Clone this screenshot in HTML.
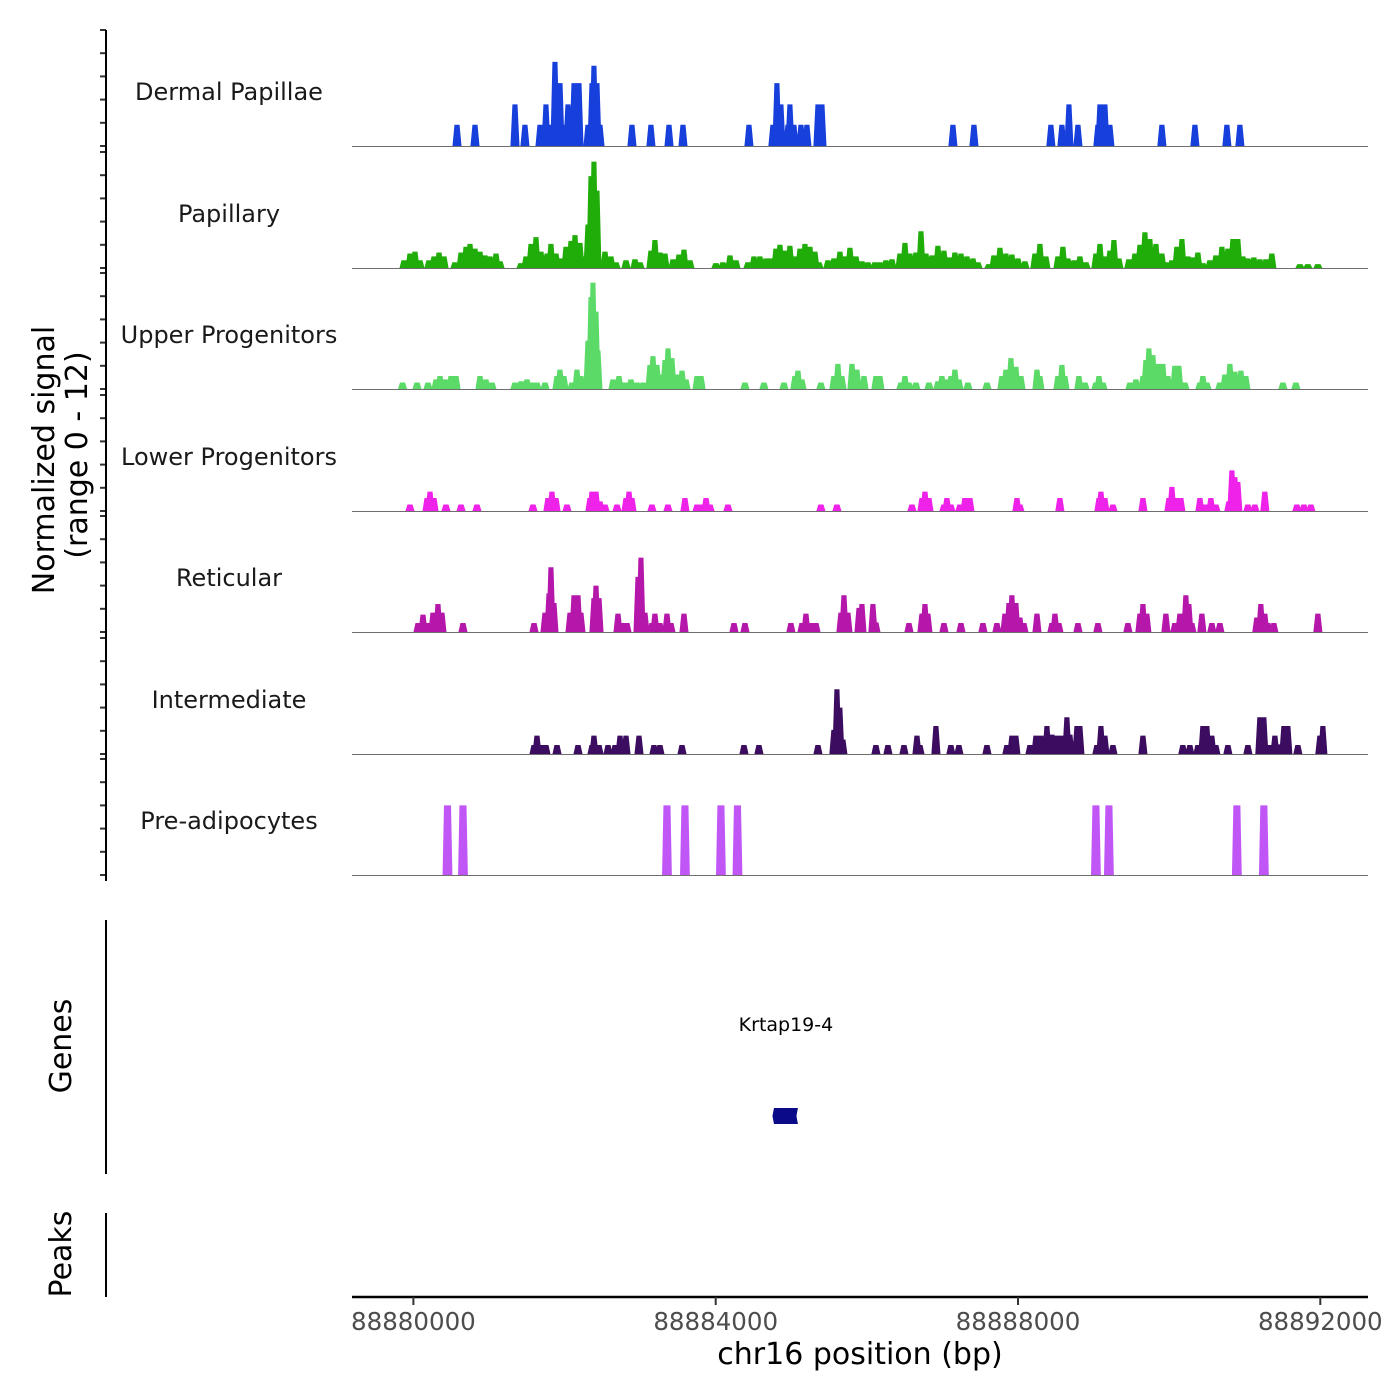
<!DOCTYPE html>
<html><head><meta charset="utf-8"><style>
html,body{margin:0;padding:0;background:#fff;}
svg{display:block;}
text{font-family:"DejaVu Sans","Liberation Sans",sans-serif;}
</style></head><body>
<svg id="chart" width="1400" height="1400" viewBox="0 0 1400 1400" xmlns="http://www.w3.org/2000/svg">
<g id="tracks"></g>
<g id="yaxis"></g>
<text transform="translate(54,460) rotate(-90)" text-anchor="middle" font-size="30" fill="#000">Normalized signal</text>
<text transform="translate(87,455) rotate(-90)" text-anchor="middle" font-size="30" fill="#000">(range 0 - 12)</text>
<line x1="106" y1="920" x2="106" y2="1174" stroke="#000" stroke-width="2"/>
<text transform="translate(71,1046) rotate(-90)" text-anchor="middle" font-size="30" fill="#000">Genes</text>
<line x1="106" y1="1213" x2="106" y2="1297" stroke="#000" stroke-width="2"/>
<text transform="translate(71,1254) rotate(-90)" text-anchor="middle" font-size="30" fill="#000">Peaks</text>
<g id="genes"></g>
<g id="xaxis"></g>
<text x="860" y="1364" text-anchor="middle" font-size="30" fill="#000">chr16 position (bp)</text>
</svg>
<script>
const REGION_START = 88880000;
const xTicks = [88880000, 88884000, 88888000, 88892000];
const trackNames = ["Dermal Papillae","Papillary","Upper Progenitors","Lower Progenitors","Reticular","Intermediate","Pre-adipocytes"];
const trackColors = ["#173fdb","#21ad09","#5bda68","#ef22ea","#b417aa","#3b0c5f","#c056f6"];

const dpPos = [577,815,1344,1476,1675,1754,1807,1873,1940,2006,2045,2125,2191,2310,2363,2389,2429,2469,2892,3143,3382,3567,4440,4757,4810,4863,4956,4982,5035,5128,5207,5353,5406,7139,7417,8435,8581,8674,8793,9057,9084,9150,9216,9904,10341,10764,10936];
const dpVal = [2.2,2.2,4.3,2.2,2.2,4.3,2.2,8.7,6.5,2.2,4.3,6.5,6.5,2.2,6.5,8.3,6.5,2.2,2.2,2.2,2.2,2.2,2.2,2.2,6.5,4.3,2.2,4.3,2.2,2.2,2.2,4.3,4.3,2.2,2.2,2.2,2.2,4.3,2.2,2.2,4.3,4.3,2.2,2.2,2.2,2.2,2.2];

const papPos = [-124,-45,21,87,206,273,339,405,550,630,696,749,815,881,947,1013,1093,1146,1424,1490,1556,1622,1688,1768,1820,1887,1953,2019,2085,2138,2204,2257,2310,2350,2389,2429,2535,2614,2680,2813,2932,2998,3143,3196,3262,3329,3435,3514,3580,3659,4003,4096,4189,4268,4427,4506,4585,4665,4718,4797,4850,4916,4982,5062,5115,5181,5247,5313,5366,5485,5564,5644,5710,5776,5856,5935,6014,6107,6173,6253,6332,6438,6504,6570,6649,6716,6782,6861,6940,7020,7099,7165,7245,7324,7404,7470,7615,7681,7761,7840,7919,7999,8091,8224,8290,8369,8528,8594,8660,8740,8819,8899,9031,9084,9137,9216,9269,9335,9467,9547,9613,9679,9745,9825,9904,9957,10036,10102,10169,10248,10314,10380,10446,10539,10618,10698,10777,10843,10909,10976,11042,11121,11200,11280,11359,11730,11835,11968];
const papVal = [0.8,1.5,1.7,0.8,0.8,1.2,1.6,1.2,0.6,1.6,2.2,2.5,2.0,1.7,1.3,1.2,1.5,0.7,0.5,1.2,2.5,3.2,1.7,1.5,2.5,1.5,1.0,2.2,2.8,3.4,2.6,1.2,4.5,9.5,11,8,1.7,1.2,0.6,0.8,0.9,0.6,1.8,2.9,1.6,1.5,0.9,1.4,1.9,0.8,0.5,0.6,1.3,0.8,0.6,1.2,1.2,1.0,1.0,2.0,2.4,1.8,2.3,1.2,2.0,2.5,2.2,1.7,0.6,0.8,1.0,1.7,1.2,2.1,1.2,0.7,0.6,0.6,0.6,0.8,0.9,1.5,2.6,1.5,1.6,3.8,1.5,1.3,2.3,1.8,1.1,1.6,1.5,1.2,1.0,0.6,0.4,1.3,2.1,1.5,1.4,1.0,0.7,1.5,2.5,1.2,1.2,2.2,1.0,0.8,1.2,0.6,1.5,2.5,1.2,1.8,2.9,1.0,0.9,1.5,2.4,3.7,3.0,2.5,1.5,0.6,0.8,2.2,3.0,1.2,1.1,1.6,0.5,0.8,1.3,2.2,2.0,3.0,3.0,1.2,1.0,1.1,0.9,0.9,1.5,0.4,0.4,0.4];

const upPos = [-144,48,193,299,352,418,497,564,881,960,1040,1344,1424,1503,1582,1635,1741,1900,1939,1992,2098,2164,2217,2310,2350,2376,2416,2442,2641,2720,2800,2879,2959,3038,3130,3170,3223,3276,3329,3369,3421,3488,3554,3607,3753,3806,4387,4638,4903,5048,5088,5141,5392,5564,5617,5670,5803,5869,5962,6120,6173,6451,6504,6557,6649,6822,6940,6993,7059,7112,7165,7218,7337,7589,7787,7840,7906,7972,8039,8251,8290,8528,8581,8621,8806,8886,9031,9071,9124,9481,9560,9653,9692,9732,9785,9851,9917,9983,10075,10128,10208,10407,10446,10499,10671,10737,10804,10870,10949,11015,11505,11677];
const upVal = [0.67,0.67,0.67,1.0,1.35,1.0,1.35,1.35,1.35,1.0,0.67,0.67,0.8,1.0,0.67,0.67,0.67,1.35,2.0,1.35,0.67,2.0,1.35,5.0,9.5,11,8,4,1.0,1.35,0.67,1.0,0.67,0.67,2.5,3.4,2.5,1.5,3.0,4.2,3.2,1.5,1.9,1.0,1.35,1.35,0.67,0.67,0.67,1.35,1.9,1.0,0.67,1.35,2.6,1.35,2.6,2.0,1.35,1.35,1.35,0.67,1.35,0.67,0.67,0.67,0.8,1.35,1.0,1.35,2.0,1.0,0.67,0.67,1.35,2.0,3.2,2.3,1.35,2.0,1.35,1.35,2.5,1.35,1.35,0.67,0.67,1.35,0.67,0.67,1.0,1.35,3.0,4.2,3.5,2.6,2.6,1.35,2.4,2.4,0.67,0.67,1.35,0.67,0.67,1.5,2.6,1.8,1.9,1.35,0.67,0.67];

const lpPos = [-45,180,220,273,431,630,841,1582,1780,1833,1887,2032,2336,2363,2416,2469,2535,2694,2813,2853,2892,3156,3368,3593,3753,3819,3872,3925,4162,5392,5604,6597,6729,6769,6822,7020,7059,7112,7231,7297,7364,7986,8025,8554,9071,9097,9150,9256,9653,9997,10036,10089,10155,10407,10486,10552,10618,10790,10830,10870,10909,11042,11134,11266,11690,11783,11875];
const lpVal = [0.67,1.35,2.0,1.35,0.67,0.67,0.67,0.67,1.35,2.0,1.35,0.67,1.35,2.0,2.0,1.0,0.67,0.67,1.35,2.0,1.35,0.67,0.67,1.35,0.67,0.67,1.35,0.67,0.67,0.67,0.67,0.67,1.35,2.0,1.35,0.67,1.35,0.67,0.67,1.35,1.35,1.35,0.67,1.35,1.35,2.0,1.35,0.67,1.35,1.35,2.5,1.35,1.35,1.35,0.67,1.35,0.67,1.0,4.2,3.5,3.0,0.67,0.67,2.0,0.67,0.67,0.67];

const retPos = [61,127,193,259,325,378,656,1596,1741,1794,1820,1860,2072,2125,2178,2217,2389,2416,2456,2707,2773,2826,2972,3011,3064,3156,3196,3262,3355,3408,3580,4242,4387,4995,5141,5194,5273,5327,5657,5697,5750,5896,5935,6080,6120,6557,6729,6769,6808,7020,7245,7536,7721,7827,7880,7919,7972,8025,8078,8251,8449,8489,8541,8793,9057,9454,9613,9653,9705,9957,10075,10142,10221,10261,10300,10433,10565,10671,11160,11213,11266,11306,11385,11968];
const retVal = [0.93,1.8,0.93,2.0,2.9,2.0,0.93,0.93,2.0,4.0,6.7,3.0,2.0,3.8,3.8,2.0,3.5,4.8,3.5,1.9,0.93,0.93,5.7,7.7,2.0,0.93,1.9,0.93,1.9,0.93,1.9,0.93,0.93,0.93,0.93,1.9,0.93,0.93,2.0,3.8,2.0,2.5,2.9,2.9,1.0,0.93,1.9,2.9,1.9,0.93,0.93,0.93,0.93,1.9,3.0,3.8,3.0,1.5,0.93,1.9,0.93,1.9,0.93,0.93,0.93,0.93,1.9,2.9,1.9,1.9,0.93,1.9,3.8,2.9,0.93,1.9,0.93,0.93,1.5,2.9,1.9,0.93,0.93,1.9];

const intPos = [1596,1635,1701,1754,1900,2178,2363,2389,2456,2575,2668,2734,2813,2985,3183,3262,3554,4374,4572,5353,5564,5604,5643,5683,6120,6279,6491,6663,6703,6914,7112,7218,7589,7853,7919,7972,8158,8237,8303,8383,8449,8515,8581,8647,8687,8780,8819,9044,9097,9150,9256,9653,10181,10274,10380,10446,10499,10565,10618,10777,11042,11200,11253,11333,11399,11452,11518,11571,11703,11994,12034];
const intVal = [0.93,1.9,0.93,0.93,0.93,0.93,0.93,1.9,0.93,0.93,0.93,1.9,1.9,1.9,0.93,0.93,0.93,0.93,0.93,0.93,2.5,6.7,4.8,1.5,0.93,0.93,0.93,1.9,0.93,2.9,0.93,0.93,0.93,0.93,1.9,1.9,0.93,1.9,1.9,2.9,2.0,1.9,1.9,3.8,2.0,2.9,2.9,0.93,2.9,1.9,0.93,1.9,0.93,0.93,0.93,2.9,2.9,1.9,0.93,0.93,0.93,3.8,3.8,0.93,1.9,1.0,2.9,2.9,0.93,1.9,2.9];

const prePos = [451,656,3355,3593,4069,4288,9031,9203,10896,11253];
const preVal = [7.2,7.2,7.2,7.2,7.2,7.2,7.2,7.2,7.2,7.2];

const geneNames = ["Krtap19-4"];
const geneStarts = [88884771];
const geneEnds = [88885088];

const trackPos = [dpPos,papPos,upPos,lpPos,retPos,intPos,prePos];
const trackVal = [dpVal,papVal,upVal,lpVal,retVal,intVal,preVal];

const NS = "http://www.w3.org/2000/svg";
const X0 = 413.4, PX_PER_BP = 302.3/4000;
function xScale(bp){ return X0 + (bp - REGION_START) * PX_PER_BP; }
const BASES = [146,268,389,511,632,754,875];
const TRACK_H = 116, YMAX = 12;
function yScale(v, t){ return BASES[t] - v / YMAX * TRACK_H; }
function mk(tag, attrs){ const e=document.createElementNS(NS,tag); for(const k in attrs) e.setAttribute(k, attrs[k]); return e; }

const tracksG = document.getElementById('tracks');
const yG = document.getElementById('yaxis');
const HALF = 60;
for (let t=0; t<trackNames.length; t++){
  const g = mk('g', {});
  
  
  tracksG.appendChild(g);
  const lbl = mk('text', {x:229, y:BASES[t]-116+70, 'text-anchor':'middle', 'font-size':24, fill:'#1a1a1a'});
  lbl.textContent = trackNames[t];
  
  
  g.appendChild(lbl);
  const pos = trackPos[t], val = trackVal[t];
  const half = t===6 ? 65 : HALF;
  let d = '';
  for (let i=0;i<pos.length;i++){
    const c = REGION_START + pos[i];
    const xl = xScale(c-half), xr = xScale(c+half);
    const inset = t===6 ? 1.4 : 2.0;
    const yb = BASES[t], yt = yScale(val[i], t);
    d += `M${xl.toFixed(2)},${yb}L${(xl+inset).toFixed(2)},${yt.toFixed(2)}L${(xr-inset).toFixed(2)},${yt.toFixed(2)}L${xr.toFixed(2)},${yb}Z`;
  }
  const area = mk('path', {d:d, fill:trackColors[t], stroke:'none'});
  
  
  g.appendChild(area);
  const base = mk('line', {x1:352, x2:1368, y1:BASES[t]+0.5, y2:BASES[t]+0.5, stroke:'#6e6e6e', 'stroke-width':1});
  
  
  g.appendChild(base);
  for (let k=0;k<=5;k++){
    const yy = BASES[t] - k*TRACK_H/5;
    const tk = mk('line', {x1:100, x2:106, y1:yy, y2:yy, stroke:'#333', 'stroke-width':2});
    
    
    yG.appendChild(tk);
  }
}
const yl = mk('line', {x1:106, x2:106, y1:30, y2:881, stroke:'#000', 'stroke-width':2});


yG.appendChild(yl);

const genesG = document.getElementById('genes');
for (let i=0;i<geneNames.length;i++){
  const x1 = xScale(geneStarts[i]), x2 = xScale(geneEnds[i]);
  const r = mk('path', {d:`M${x1},1108L${x2},1108L${x2-1.5},1116L${x2},1124L${x1},1124L${x1-1.5},1116Z`, fill:'#0b0b8a'});
  
  
  genesG.appendChild(r);
  const tx = mk('text', {x:(x1+x2)/2, y:1031, 'text-anchor':'middle', 'font-size':19, fill:'#000'});
  tx.textContent = geneNames[i];
  
  
  genesG.appendChild(tx);
}

const xG = document.getElementById('xaxis');
const xl = mk('line', {x1:352, x2:1368, y1:1297, y2:1297, stroke:'#000', 'stroke-width':2.5});


xG.appendChild(xl);
for (const v of xTicks){
  const x = xScale(v);
  const tk = mk('line', {x1:x, x2:x, y1:1297, y2:1305, stroke:'#333', 'stroke-width':2});
  
  
  xG.appendChild(tk);
  const tl = mk('text', {x:x, y:1330, 'text-anchor':'middle', 'font-size':24.5, fill:'#4d4d4d'});
  tl.textContent = String(v);
  
  
  xG.appendChild(tl);
}
</script>
</body></html>
